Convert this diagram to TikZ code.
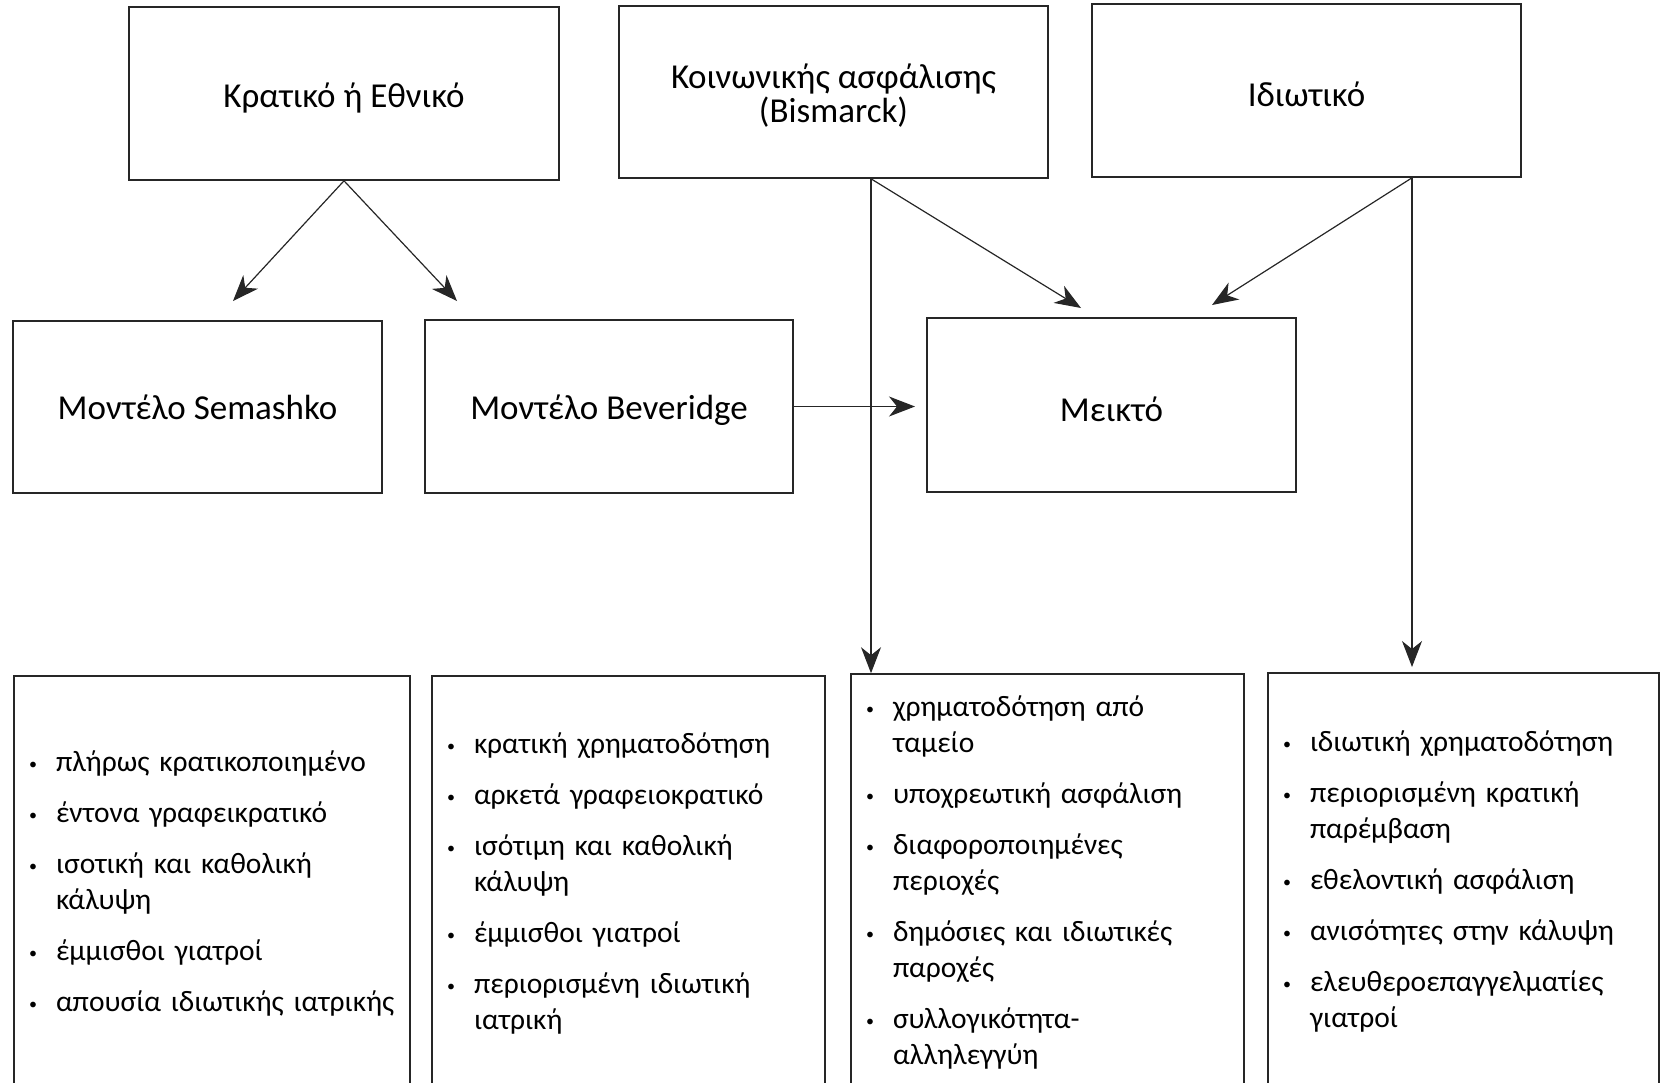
\documentclass[tikz,border=0pt]{standalone}
\usepackage{fontspec}
\setmainfont{Carlito}
\usetikzlibrary{arrows.meta}
\newcommand*\bul[1]{\par\hangindent=30pt\hangafter=1\noindent
  \makebox[30pt][l]{\hspace{3pt}\raisebox{2pt}{\fontsize{16pt}{16pt}\selectfont •}}#1}
\newcommand*\low[1]{\raisebox{-4pt}[\height][\depth]{#1}}

\begin{document}
\begin{tikzpicture}[x=1pt,y=-1pt,
  box/.style={draw=black!85, line width=1.6pt, align=center, inner sep=0pt,
    font=\fontsize{35pt}{34pt}\selectfont},
  listbox/.style={draw=black!85, line width=1.6pt, inner xsep=12pt, inner ysep=0pt,
    font=\fontsize{29.5pt}{36pt}\selectfont\raggedright\setlength{\parskip}{15pt}},
  arr/.style={draw=black!85, line width=1.2pt,
    -{Stealth[length=26pt,width=20pt,inset=8pt]}}]
\useasboundingbox (0,0) rectangle (1661,1082);
% top row
\node[box, minimum width=430, minimum height=173] (kratiko) at (344,93.5) {\low{Κρατικό ή Εθνικό}};
\node[box, minimum width=429, minimum height=172] (koin) at (833.5,92) {\low{Κοινωνικής ασφάλισης}\\\low{(Bismarck)}};
\node[box, minimum width=429, minimum height=173] (idiot) at (1306.5,90.5) {\low{Ιδιωτικό}};
% middle row
\node[box, minimum width=369, minimum height=172] (semashko) at (197.5,407) {Μοντέλο Semashko};
\node[box, minimum width=368, minimum height=173] (beveridge) at (609,406.5) {\low{Μοντέλο Beveridge}};
\node[box, minimum width=369, minimum height=174] (meikto) at (1111.5,405) {\low{Μεικτό}};
% bottom row
\node[listbox, text width=372, minimum height=414] (semlist) at (212,883) {\vspace*{-30pt}%
  \bul{πλήρως κρατικοποιημένο}
  \bul{έντονα γραφεικρατικό}
  \bul{ισοτική και καθολική\newline κάλυψη}
  \bul{έμμισθοι γιατροί}
  \bul{απουσία ιδιωτικής ιατρικής}\par};
\node[listbox, text width=369, minimum height=414] (bevlist) at (628.5,883) {\vspace*{-30pt}%
  \bul{κρατική χρηματοδότηση}
  \bul{αρκετά γραφειοκρατικό}
  \bul{ισότιμη και καθολική\newline κάλυψη}
  \bul{έμμισθοι γιατροί}
  \bul{περιορισμένη ιδιωτική\newline ιατρική}\par};
\node[listbox, text width=369, minimum height=416] (bislist) at (1047.5,882) {\vspace*{-30pt}%
  \bul{χρηματοδότηση από\newline ταμείο}
  \bul{υποχρεωτική ασφάλιση}
  \bul{διαφοροποιημένες\newline περιοχές}
  \bul{δημόσιες και ιδιωτικές\newline παροχές}
  \bul{συλλογικότητα-\newline αλληλεγγύη}\par};
\node[listbox, text width=367, minimum height=417] (idlist) at (1463.5,881.5) {\vspace*{-30pt}%
  \bul{ιδιωτική χρηματοδότηση}
  \bul{περιορισμένη κρατική\newline παρέμβαση}
  \bul{εθελοντική ασφάλιση}
  \bul{ανισότητες στην κάλυψη}
  \bul{ελευθεροεπαγγελματίες\newline γιατροί}\par};
% free ends of the arrows
\coordinate (semtip) at (233,301);
\coordinate (bevtip) at (457,301);
\coordinate (koinfoot) at ([xshift=37.5pt]koin.south);
\coordinate (koinmix) at (1081,308);
\coordinate (idfoot) at ([xshift=105.5pt]idiot.south);
\coordinate (idmix) at (1212,305);
\coordinate (idtip) at (1412,667);
\coordinate (bevmix) at (915,406.5);
% arrows
\draw[arr] (kratiko.south) -- (semtip);
\draw[arr] (kratiko.south) -- (bevtip);
\draw[arr] (koinfoot) -- (koinfoot |- bislist.north);
\draw[arr] (koinfoot) -- (koinmix);
\draw[arr] (idfoot) -- (idtip);
\draw[arr] (idfoot) -- (idmix);
\draw[arr] (beveridge.east) -- (bevmix);
\end{tikzpicture}
\end{document}
